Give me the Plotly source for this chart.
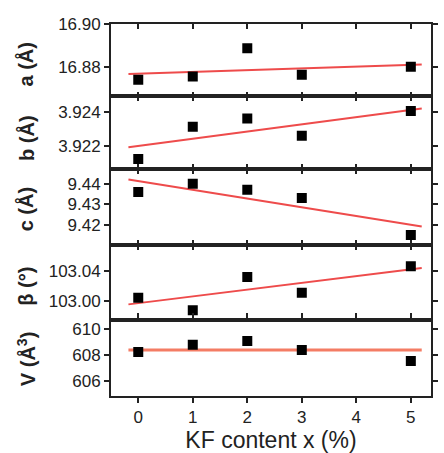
import plotly.graph_objects as go
from plotly.subplots import make_subplots

# Data
kf = [0, 1, 2, 3, 5]
a_vals = [16.8741, 16.8756, 16.8888, 16.8764, 16.8802]
b_vals = [3.92122, 3.92312, 3.92361, 3.92259, 3.92406]
c_vals = [9.4360, 9.4400, 9.4371, 9.4331, 9.4151]
beta_vals = [103.0044, 102.9875, 103.0324, 103.0111, 103.0467]
v_vals = [608.25, 608.8, 609.1, 608.4, 607.55]

# Linear-fit lines (endpoints)
fit_x = [-0.18, 5.2]
a_fit = [16.8768, 16.8812]
b_fit = [3.92191, 3.92420]
c_fit = [9.4421, 9.4192]
beta_fit = [102.9955, 103.0444]
v_fit = [608.4, 608.4]

x_ticks = [0, 1, 2, 3, 4, 5]
y_titles = ["a (Å)", "b (Å)", "c (Å)", "β (°)", "V (Å<sup>3</sup>)"]
y_ranges = [[16.8664, 16.9], [3.92063, 3.92492], [9.41012, 9.44723], [102.975, 103.0751], [604.85, 610.75]]
y_tickvals = [[16.88, 16.90], [3.922, 3.924], [9.42, 9.43, 9.44], [103.00, 103.04], [606, 608, 610]]
y_ticktext = [["16.88", "16.90"], ["3.922", "3.924"], ["9.42", "9.43", "9.44"], ["103.00", "103.04"], ["606", "608", "610"]]

series = [a_vals, b_vals, c_vals, beta_vals, v_vals]
fits = [a_fit, b_fit, c_fit, beta_fit, v_fit]
fit_colors = ["#ee4b4b", "#ee4b4b", "#ee4b4b", "#ee4b4b", "#f47c64"]
fit_widths = [2, 2, 2, 2, 3]

W, H = 444, 453
ml, mr, mt, mb = 111, 6, 24, 54
bounds_px = [24, 97, 170, 247, 322, 399]
title_y_px = [65, 139, 211, 288, 362]
title_x_px = 24

fig = make_subplots(rows=5, cols=1, shared_xaxes=True, vertical_spacing=0)
font_family = "Liberation Sans, Arial, sans-serif"
ink = "#222222"
plot_h = bounds_px[-1] - bounds_px[0]
plot_w = W - ml - mr

for i in range(5):
    r = i + 1
    fig.add_trace(go.Scatter(x=fit_x, y=fits[i], mode="lines",
                             line=dict(color=fit_colors[i], width=fit_widths[i]),
                             showlegend=False, hoverinfo="skip"), row=r, col=1)
    fig.add_trace(go.Scatter(x=kf, y=series[i], mode="markers",
                             marker=dict(symbol="square", size=10, color="black"),
                             showlegend=False), row=r, col=1)
    y0 = (bounds_px[-1] - bounds_px[i + 1]) / plot_h
    y1 = (bounds_px[-1] - bounds_px[i]) / plot_h
    yname = "yaxis" if i == 0 else f"yaxis{r}"
    xname = "xaxis" if i == 0 else f"xaxis{r}"
    fig.layout[yname].update(domain=[y0, y1], range=y_ranges[i],
                             tickvals=y_tickvals[i], ticktext=y_ticktext[i],
                             ticks="outside", ticklen=5, tickwidth=1.5, tickcolor=ink,
                             showline=True, linecolor=ink, linewidth=1.8, mirror="ticks",
                             showgrid=False, zeroline=False,
                             tickfont=dict(family=font_family, size=17, color=ink))
    last = (i == 4)
    fig.layout[xname].update(range=[-0.5, 5.37], tickvals=x_ticks,
                             ticks="outside" if last else "inside", ticklen=5, tickwidth=1.5,
                             tickcolor=ink, showline=True, linecolor=ink, linewidth=1.8,
                             mirror="ticks", showgrid=False, zeroline=False,
                             showticklabels=last,
                             tickfont=dict(family=font_family, size=17, color=ink))
    fig.add_annotation(text="<b>" + y_titles[i] + "</b>", xref="paper", yref="paper",
                       x=(title_x_px - ml) / plot_w, y=(bounds_px[-1] - title_y_px[i]) / plot_h,
                       xanchor="center", yanchor="middle", textangle=-90, showarrow=False,
                       font=dict(family=font_family, size=20, color=ink))

fig.layout.xaxis5.update(title=dict(text="KF content x (%)", standoff=4,
                                    font=dict(family=font_family, size=23, color=ink)))

fig.update_layout(width=W, height=H, margin=dict(l=ml, r=mr, t=mt, b=mb),
                  plot_bgcolor="white", paper_bgcolor="white", showlegend=False)

fig.write_html("out.html")
